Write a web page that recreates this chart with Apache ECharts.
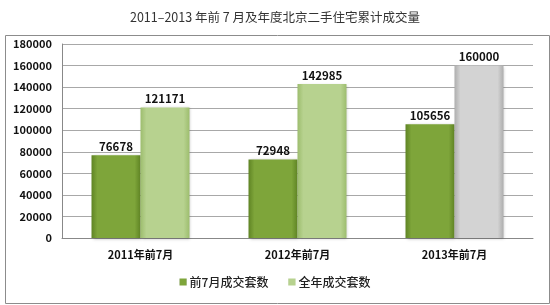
<!DOCTYPE html>
<html><head><meta charset="utf-8">
<script src="https://cdn.jsdelivr.net/npm/echarts@6/dist/echarts.min.js"></script>
<style>html,body{margin:0;padding:0;background:#fff}#c{width:550px;height:305px}</style>
</head><body><div id="c"></div>
<script>
const categories = ['2011年前7月', '2012年前7月', '2013年前7月'];
const firstSevenMonths = [76678, 72948, 105656];
const fullYear = [121171, 142985, 160000];
const yTicks = [0, 20000, 40000, 60000, 80000, 100000, 120000, 140000, 160000, 180000];
const seriesNames = ['前7月成交套数', '全年成交套数'];
const titleText = '2011–2013 年前 7 月及年度北京二手住宅累计成交量';

const FONT = '"Noto Sans CJK SC", "Liberation Sans", sans-serif';
function hGrad(edge, mid) {
  return new echarts.graphic.LinearGradient(0, 0, 1, 0, [
    {offset: 0, color: edge}, {offset: 0.12, color: mid}, {offset: 0.88, color: mid}, {offset: 1, color: edge}
  ]);
}
const green = hGrad('#5f8424', '#7ea53a');
const lightGreen = hGrad('#9dbd6e', '#b7d28f');
const gray = hGrad('#aeaeae', '#d3d3d3');

const chart = echarts.init(document.getElementById('c'));
chart.setOption({
  animation: false,
  title: {
    text: titleText, left: 'center', top: 6,
    textStyle: {fontFamily: FONT, fontSize: 12.5, fontWeight: 'normal', color: '#333'}
  },
  graphic: [{
    type: 'rect', left: 3, top: 33, shape: {width: 544, height: 268},
    style: {fill: 'none', stroke: '#8c8c8c', lineWidth: 1}, z: -1
  }],
  legend: {
    data: seriesNames, bottom: 12, left: 'center', itemWidth: 7, itemHeight: 7, itemGap: 20,
    icon: 'rect',
    textStyle: {fontFamily: FONT, fontSize: 12, fontWeight: 500, color: '#222', padding: [0, 0, 0, -2]}
  },
  grid: {left: 62, right: 17, top: 44, bottom: 67},
  xAxis: {
    type: 'category', data: categories,
    axisLine: {lineStyle: {color: '#888'}}, axisTick: {show: false},
    axisLabel: {fontFamily: FONT, fontSize: 11, fontWeight: 'bold', color: '#111', margin: 11}
  },
  yAxis: {
    type: 'value', min: yTicks[0], max: yTicks[yTicks.length - 1], interval: yTicks[1] - yTicks[0],
    axisLine: {show: true, lineStyle: {color: '#888'}}, axisTick: {show: false},
    splitLine: {lineStyle: {color: '#a8a8a8'}},
    axisLabel: {fontFamily: FONT, fontSize: 11, fontWeight: 'bold', color: '#111', margin: 10,
      formatter: v => String(v)}
  },
  series: [
    {
      name: seriesNames[0], type: 'bar', data: firstSevenMonths,
      barGap: '0%', barCategoryGap: '37.6%',
      itemStyle: {color: green, shadowColor: 'rgba(0,0,0,0.25)', shadowBlur: 3, shadowOffsetX: 1, shadowOffsetY: 1},
      label: {show: true, position: 'top', distance: 3, fontFamily: FONT, fontSize: 11.5, fontWeight: 'bold', color: '#111'}
    },
    {
      name: seriesNames[1], type: 'bar',
      data: fullYear.map((v, i) => i === 2 ? {value: v, itemStyle: {color: gray}} : v),
      itemStyle: {color: lightGreen, shadowColor: 'rgba(0,0,0,0.25)', shadowBlur: 3, shadowOffsetX: 1, shadowOffsetY: 1},
      label: {show: true, position: 'top', distance: 3, fontFamily: FONT, fontSize: 11.5, fontWeight: 'bold', color: '#111'}
    }
  ]
});
</script></body></html>
